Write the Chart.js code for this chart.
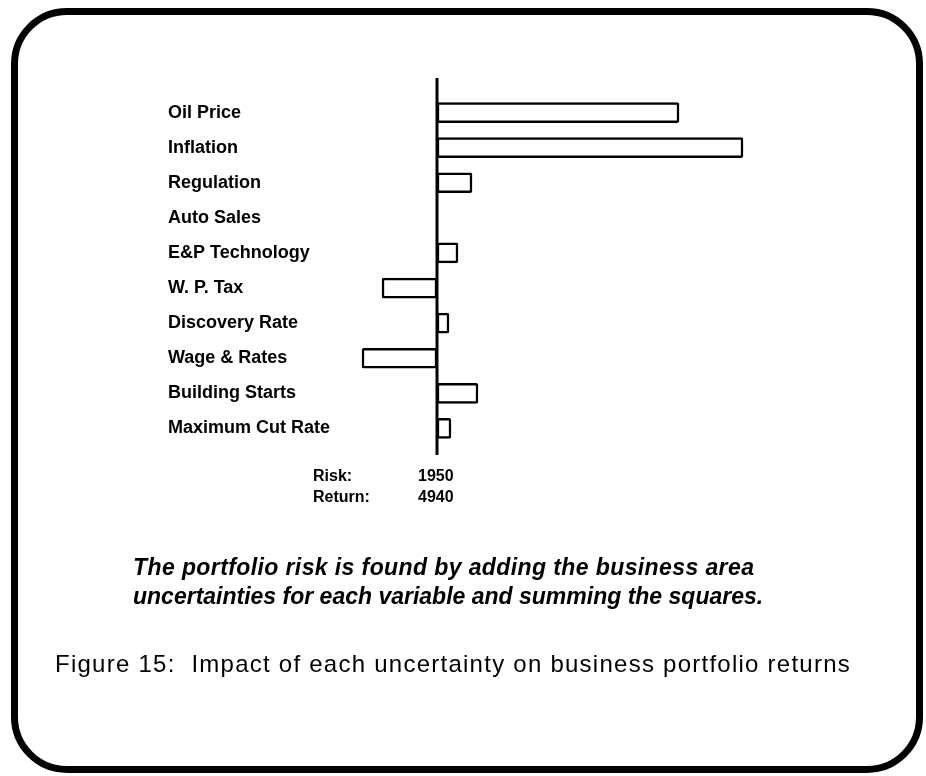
<!DOCTYPE html>
<html>
<head>
<meta charset="utf-8">
<script src="https://cdn.jsdelivr.net/npm/chart.js@4.4.1/dist/chart.umd.min.js"></script>
<style>
  html, body { margin: 0; padding: 0; background: #fff; }
  body { width: 926px; height: 776px; position: relative; overflow: hidden; font-family: "Liberation Sans", Arial, sans-serif; color: #000; }
  #frame { position: absolute; left: 11px; top: 8px; width: 912px; height: 765px; box-sizing: border-box; border: 7px solid #000; border-radius: 56px; }
  #chart { position: absolute; left: 0; top: 0; }
  .txt { position: absolute; white-space: nowrap; line-height: 1; }
  .stat { font-size: 16px; font-weight: bold; }
  .note { left: 133px; font-size: 23px; font-weight: bold; font-style: italic; }
  #caption { left: 55px; top: 652px; font-size: 24px; letter-spacing: 1.25px; }
</style>
</head>
<body>
<div id="frame"></div>
<canvas id="chart" width="926" height="776"></canvas>
<div class="txt stat" style="left:313px;top:468px">Risk:</div>
<div class="txt stat" style="left:418px;top:468px" id="risk"></div>
<div class="txt stat" style="left:313px;top:489px">Return:</div>
<div class="txt stat" style="left:418px;top:489px" id="ret"></div>
<div class="txt note" style="top:556px;letter-spacing:0.4px">The portfolio risk is found by adding the business area</div>
<div class="txt note" style="top:585px">uncertainties for each variable and summing the squares.</div>
<div class="txt" id="caption">Figure 15:&nbsp; Impact of each uncertainty on business portfolio returns</div>
<script>
// uncertainty drivers and their impact on portfolio returns
const labels = ['Oil Price', 'Inflation', 'Regulation', 'Auto Sales', 'E&P Technology',
  'W. P. Tax', 'Discovery Rate', 'Wage & Rates', 'Building Starts', 'Maximum Cut Rate'];
const impact = [242, 306, 35, 0, 21, -55, 12, -75, 41, 14];
const risk = 1950;
const portfolioReturn = 4940;

document.getElementById('risk').textContent = risk;
document.getElementById('ret').textContent = portfolioReturn;

// vertical zero line that runs a bit past the bars
const zeroLine = {
  id: 'zeroLine',
  afterDatasetsDraw(chart) {
    const {ctx, chartArea, scales} = chart;
    const x = scales.x.getPixelForValue(0);
    ctx.save();
    ctx.strokeStyle = '#000';
    ctx.lineWidth = 3;
    ctx.beginPath();
    ctx.moveTo(x, chartArea.top - 17);
    ctx.lineTo(x, chartArea.bottom + 9);
    ctx.stroke();
    ctx.restore();
  }
};

new Chart(document.getElementById('chart'), {
  type: 'bar',
  data: {
    labels,
    datasets: [{
      data: impact,
      backgroundColor: '#fff',
      borderColor: '#000',
      borderWidth: 2.5,
      borderSkipped: false,
      borderRadius: 2,
      barThickness: 20
    }]
  },
  plugins: [zeroLine],
  options: {
    indexAxis: 'y',
    responsive: false,
    animation: false,
    layout: { padding: { left: 168, top: 95, right: 166, bottom: 330 } },
    plugins: { legend: { display: false }, tooltip: { enabled: false } },
    scales: {
      x: { display: false, min: -87, max: 323 },
      y: {
        grid: { display: false },
        border: { display: false },
        afterFit: (axis) => { axis.width = 182; },
        ticks: {
          crossAlign: 'far',
          color: '#000',
          font: { family: '"Liberation Sans", Arial, sans-serif', size: 18, weight: 'bold' }
        }
      }
    }
  }
});
</script>
</body>
</html>
